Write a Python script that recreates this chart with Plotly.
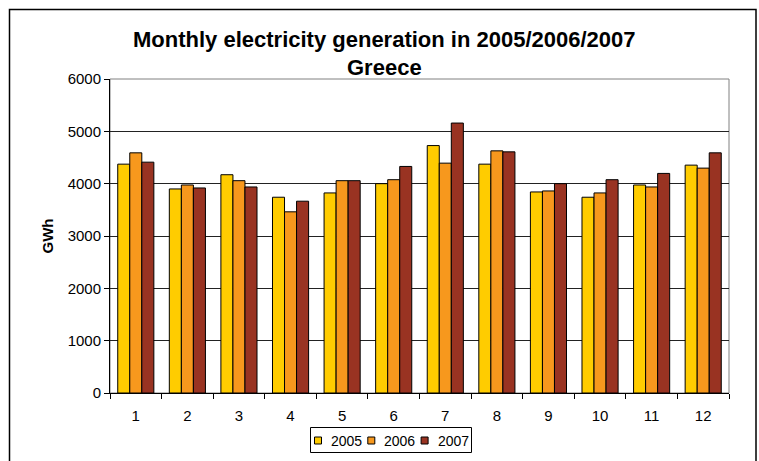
import plotly.graph_objects as go

months = ["1", "2", "3", "4", "5", "6", "7", "8", "9", "10", "11", "12"]
gen_2005 = [4373, 3899, 4171, 3741, 3823, 4000, 4728, 4373, 3842, 3741, 3975, 4354]
gen_2006 = [4589, 3975, 4057, 3462, 4057, 4076, 4392, 4627, 3861, 3823, 3937, 4297]
gen_2007 = [4411, 3918, 3937, 3665, 4057, 4329, 5158, 4608, 4000, 4076, 4196, 4589]
series_names = ["2005", "2006", "2007"]
colors = ["#FFCC00", "#F7981D", "#993322"]
y_ticks = [0, 1000, 2000, 3000, 4000, 5000, 6000]

W, H = 759, 461
L, R, T, B = 110, 30, 79, 68
pw, ph = W - L - R, H - T - B

def px_x(x):
    return (x - L) / pw

def px_y(y):
    return (H - B - y) / ph

fig = go.Figure()
for name, vals, col in zip(series_names, [gen_2005, gen_2006, gen_2007], colors):
    fig.add_trace(go.Bar(x=months, y=vals, name=name, showlegend=False,
                         marker=dict(color=col, line=dict(color="#000000", width=1))))

font = "Liberation Sans, Arial, sans-serif"

# compact legend (Excel style): box with small swatches and labels
shapes = [
    dict(type="rect", xref="paper", yref="paper", x0=0, x1=1, y0=0, y1=1,
         line=dict(color="#808080", width=1), layer="below"),
    dict(type="rect", xref="paper", yref="paper",
         x0=px_x(9.5), x1=px_x(756), y0=px_y(475), y1=px_y(9.5),
         line=dict(color="#000000", width=1.5)),
    dict(type="rect", xref="paper", yref="paper",
         x0=px_x(310.5), x1=px_x(471.5), y0=px_y(452.5), y1=px_y(427.5),
         line=dict(color="#000000", width=1), fillcolor="white"),
]
annotations = [
    dict(text="<b>Monthly electricity generation in 2005/2006/2007</b>", xref="paper", yref="paper",
         x=px_x(384), y=px_y(40), xanchor="center", yanchor="middle", showarrow=False,
         font=dict(size=22, family=font)),
    dict(text="<b>Greece</b>", xref="paper", yref="paper",
         x=px_x(384), y=px_y(67), xanchor="center", yanchor="middle", showarrow=False,
         font=dict(size=22, family=font)),
]
legend_x0 = 314.5
legend_step = 53.3
for i, (name, col) in enumerate(zip(series_names, colors)):
    sx = legend_x0 + i * legend_step
    shapes.append(dict(type="rect", xref="paper", yref="paper",
                       x0=px_x(sx), x1=px_x(sx + 7), y0=px_y(444), y1=px_y(437),
                       line=dict(color="#000000", width=1), fillcolor=col))
    annotations.append(dict(text=name, xref="paper", yref="paper",
                            x=px_x(sx + 14.5), y=px_y(440.5), xanchor="left", yanchor="middle",
                            showarrow=False, font=dict(size=14, family=font)))

fig.update_layout(
    width=W, height=H,
    margin=dict(l=L, r=R, t=T, b=B, autoexpand=False),
    paper_bgcolor="white", plot_bgcolor="white",
    barmode="group", bargap=0.30, bargroupgap=0,
    font=dict(family=font, size=15, color="#000000"),
    showlegend=False,
    xaxis=dict(type="category", showgrid=False, showline=True, linecolor="#000000", linewidth=1,
               ticks="outside", ticklen=5, tickcolor="#000000", tickson="boundaries",
               tickfont=dict(size=15), ticklabelstandoff=9, mirror=False, fixedrange=True),
    yaxis=dict(range=[0, 6000], tickvals=y_ticks, ticktext=[str(v) for v in y_ticks],
               showgrid=True, gridcolor="#222222", gridwidth=1,
               showline=True, linecolor="#000000", linewidth=1,
               ticks="outside", ticklen=5, tickcolor="#000000",
               tickfont=dict(size=15), zeroline=False, fixedrange=True,
               title=dict(text="<b>GWh</b>", font=dict(size=15), standoff=10)),
    shapes=shapes,
    annotations=annotations,
)

fig.write_html("out.html")
